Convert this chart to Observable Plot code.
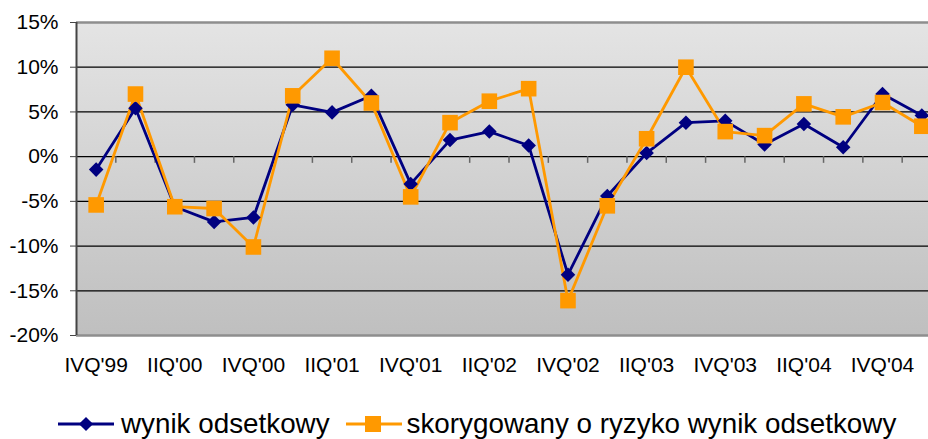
<!DOCTYPE html>
<html>
<head>
<meta charset="utf-8">
<script src="https://cdn.jsdelivr.net/npm/d3@7"></script>
<script src="https://cdn.jsdelivr.net/npm/@observablehq/plot@0.6"></script>
<style>
  html, body { margin: 0; padding: 0; background: #fff; overflow: hidden; }
  body { width: 928px; height: 439px; font-family: "Liberation Sans", Arial, sans-serif; }
  #legend { height: 44px; display: flex; align-items: center; padding-left: 58px; font-size: 27.8px; color: #000; line-height: 1; position: relative; top: 7px; }
  #legend .item { display: flex; align-items: center; }
  #legend svg { display: block; }
</style>
</head>
<body>
<div id="chart"></div>
<div id="legend"></div>
<script>
const quarters = ["IVQ'99","IQ'00","IIQ'00","IIIQ'00","IVQ'00","IQ'01","IIQ'01","IIIQ'01","IVQ'01","IQ'02","IIQ'02","IIIQ'02","IVQ'02","IQ'03","IIQ'03","IIIQ'03","IVQ'03","IQ'04","IIQ'04","IIIQ'04","IVQ'04","IQ'05"];
const wynikOdsetkowy = [-1.45, 5.4, -5.6, -7.3, -6.8, 5.8, 4.95, 6.8, -3.05, 1.85, 2.8, 1.25, -13.2, -4.4, 0.4, 3.8, 4.0, 1.35, 3.65, 1.05, 7.0, 4.6];
const skorygowany = [-5.4, 7.0, -5.6, -5.8, -10.1, 6.8, 11.0, 6.0, -4.5, 3.8, 6.2, 7.6, -16.1, -5.5, 2.0, 10.0, 2.8, 2.35, 5.9, 4.45, 6.05, 3.4];
const yTicks = [-20, -15, -10, -5, 0, 5, 10, 15];
const seriesNames = ["wynik odsetkowy", "skorygowany o ryzyko wynik odsetkowy"];
const colors = ["#000080", "#FF9900"];

const rows1 = quarters.map((q, i) => ({i, q, v: wynikOdsetkowy[i]}));
const rows2 = quarters.map((q, i) => ({i, q, v: skorygowany[i]}));
const labelIdx = quarters.map((q, i) => i).filter(i => i % 2 === 0 && i < 21);
const boundaries = quarters.map((q, i) => i + 0.5);

const chart = Plot.plot({
  width: 928,
  height: 395,
  marginTop: 22,
  marginBottom: 60,
  marginLeft: 76,
  marginRight: 0,
  style: {fontFamily: "'Liberation Sans', Arial, sans-serif", fontSize: "21px", color: "#000", background: "#fff", overflow: "hidden"},
  x: {domain: [-0.5, quarters.length - 0.5], range: [76, 941]},
  y: {domain: [-20, 15]},
  marks: [
    Plot.frame({fill: "url(#bgGrad)", stroke: "none"}),
    Plot.ruleY([-15, -10, -5, 0, 5, 10], {stroke: "#000", strokeWidth: 1.2}),
    Plot.ruleX(boundaries, {x: d => d, y1: 0, y2: -0.75, stroke: "#666", strokeWidth: 1.5}),
    Plot.ruleY([15, -20], {stroke: "#8e8e8e", strokeWidth: 2.5}),
    Plot.ruleX([-0.5], {y1: -20, y2: 15, stroke: "#444", strokeWidth: 2}),
    Plot.axisY({ticks: yTicks, tickSize: 6, tickPadding: 12, tickFormat: d => d + "%", fontSize: 21, stroke: "#444", label: null}),
    Plot.axisX({ticks: labelIdx, tickSize: 0, tickPadding: 22, tickFormat: i => quarters[i], fontSize: 21, label: null}),
    Plot.line(rows1, {x: "i", y: "v", stroke: colors[0], strokeWidth: 2.8}),
    Plot.line(rows2, {x: "i", y: "v", stroke: colors[1], strokeWidth: 2.8}),
    Plot.dot(rows1, {x: "i", y: "v", symbol: "square", r: 5.8, rotate: 45, fill: colors[0], stroke: "none"}),
    Plot.dot(rows2, {x: "i", y: "v", symbol: "square", r: 8.8, fill: colors[1], stroke: "none"})
  ]
});

const ns = "http://www.w3.org/2000/svg";
const defs = document.createElementNS(ns, "defs");
defs.innerHTML = '<linearGradient id="bgGrad" x1="0" y1="0" x2="0" y2="1">' +
  '<stop offset="0" stop-color="#e4e4e4"/><stop offset="1" stop-color="#bfbfbf"/></linearGradient>';
chart.insertBefore(defs, chart.firstChild);
document.getElementById("chart").appendChild(chart);

// Legend
const legend = document.getElementById("legend");
function legendItem(name, color, kind, gapAfter) {
  const item = document.createElement("div");
  item.className = "item";
  item.style.marginRight = gapAfter + "px";
  const marker = kind === "diamond"
    ? `<rect x="23" y="5" width="10" height="10" fill="${color}" transform="rotate(45 28 10)"/>`
    : `<rect x="19" y="2" width="16" height="16" fill="${color}"/>`;
  item.innerHTML = `<svg width="56" height="20"><line x1="0" y1="10" x2="56" y2="10" stroke="${color}" stroke-width="2.8"/>${marker}</svg>` +
    `<span style="margin-left:${kind === "diamond" ? 7 : 5}px">${name}</span>`;
  legend.appendChild(item);
}
legendItem(seriesNames[0], colors[0], "diamond", 16);
legendItem(seriesNames[1], colors[1], "square", 0);
</script>
</body>
</html>
